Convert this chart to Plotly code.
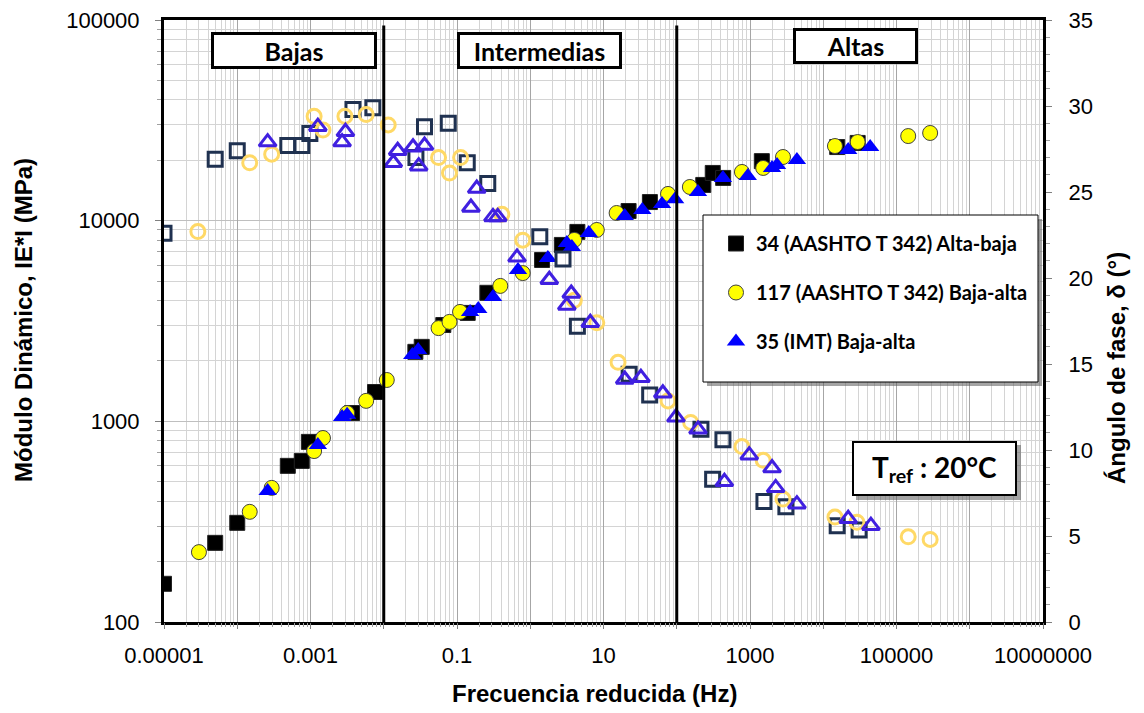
import plotly.graph_objects as go

# ---------------- data ----------------
# Dynamic modulus |E*| (MPa) vs reduced frequency (Hz)
f_e34 = [1e-5, 5.0e-5, 1.0e-4, 4.9e-4, 7.6e-4, 9.5e-4, 3.7e-3, 7.6e-3, 0.027, 0.033,
         0.065, 0.14, 0.26, 1.45, 2.7, 4.4, 22, 43, 230, 310, 430, 1450, 15500, 29500]
e34 = [155, 248, 312, 600, 635, 790, 1100, 1400, 2220, 2350,
       3020, 3470, 4370, 6370, 7570, 8790, 11170, 12380, 15070, 17290, 16330, 19800, 23270, 24400]

f_e117 = [3.0e-5, 1.48e-4, 2.95e-4, 1.12e-3, 1.48e-3, 3.16e-3, 5.75e-3, 0.011, 0.056, 0.079,
          0.11, 0.39, 0.79, 4.0, 8.1, 15.1, 76, 151, 776, 1514, 2820, 14450, 29500, 144500, 288000]
e117 = [223, 354, 466, 711, 826, 1100, 1265, 1607, 2915, 3130,
        3510, 4730, 5480, 8020, 8990, 10920, 13590, 14720, 17490, 18310, 20760, 23550, 24650, 26400, 27350]

f_e35 = [2.6e-4, 1.26e-3, 2.7e-3, 3.16e-3, 0.0245, 0.0295, 0.151, 0.195, 0.31, 0.68,
         1.74, 3.16, 3.7, 6.3, 19.5, 33.9, 63, 95, 195, 427, 933, 2000, 2340, 4370, 21900, 43700]
e35 = [450, 762, 1052, 1077, 2140, 2270, 3510, 3630, 4170, 5680,
       6520, 7740, 7400, 8690, 10540, 11300, 12100, 12800, 13900, 16330, 16710, 18310, 18950, 20050, 22490, 23270]

# Phase angle (deg) vs reduced frequency (Hz)
f_d34 = [1e-5, 5.0e-5, 1.0e-4, 4.9e-4, 7.6e-4, 9.8e-4, 3.8e-3, 7.1e-3, 0.0275, 0.036,
         0.076, 0.138, 0.263, 1.35, 2.8, 4.4, 22.4, 42.7, 214, 427, 309, 1550, 3090, 15500, 30900]
d34 = [22.6, 26.9, 27.4, 27.7, 27.7, 28.4, 29.8, 29.9, 27.0, 28.8,
       29.0, 26.7, 25.5, 22.4, 21.1, 17.2, 14.4, 13.2, 11.2, 10.6, 8.3, 7.0, 6.7, 5.6, 5.35]

f_d117 = [2.9e-5, 1.48e-4, 2.95e-4, 1.12e-3, 1.48e-3, 2.95e-3, 5.75e-3, 0.0115, 0.056, 0.079,
          0.112, 0.41, 0.79, 4.0, 8.1, 15.8, 76, 155, 776, 1514, 2820, 14450, 28800, 144500, 288000]
d117 = [22.7, 26.7, 27.2, 29.4, 28.6, 29.4, 29.5, 28.9, 27.0, 26.1,
        27.0, 23.7, 22.2, 18.7, 17.4, 15.1, 12.85, 11.6, 10.2, 9.4, 7.15, 6.1, 5.8, 4.95, 4.8]

f_d35 = [2.6e-4, 1.26e-3, 2.7e-3, 3.0e-3, 0.0135, 0.0155, 0.0251, 0.030, 0.036, 0.155,
         0.186, 0.31, 0.36, 0.66, 1.82, 3.63, 3.16, 6.6, 19.5, 32.4, 64.6, 97.7, 195, 977, 2000,
         447, 2240, 4370, 21900, 44700]
d35 = [27.9, 28.8, 27.9, 28.5, 26.7, 27.4, 27.6, 26.5, 27.7, 24.1,
       25.2, 23.55, 23.55, 21.2, 19.9, 19.1, 18.4, 17.4, 14.1, 14.2, 13.3, 11.9, 11.2, 9.7, 8.95,
       8.15, 7.8, 6.85, 6.0, 5.6]

series_names = ["34 (AASHTO T 342) Alta-baja", "117 (AASHTO T 342) Baja-alta", "35 (IMT) Baja-alta"]
zone_limits = [0.01, 100]          # Hz, limits between frequency zones
zone_labels = ["Bajas", "Intermedias", "Altas"]

x_label_vals = [1e-5, 1e-3, 1e-1, 10, 1e3, 1e5, 1e7]
x_label_text = ["0.00001", "0.001", "0.1", "10", "1000", "100000", "10000000"]
x_decades = [1e-5, 1e-4, 1e-3, 1e-2, 1e-1, 1, 10, 100, 1e3, 1e4, 1e5, 1e6, 1e7]
y_tickvals = [100, 1000, 10000, 100000]
y_ticktext = ["100", "1000", "10000", "100000"]

# ---------------- figure ----------------
W, H = 1144, 713
L, R, T, B = 164, 1144 - 1043, 20, 713 - 622
PW, PH = W - L - R, H - T - B

def px(x):
    return (x - L) / PW

def py(y):
    return (H - B - y) / PH

fig = go.Figure()

# zone dividers (drawn on the grid axis x2, same scale as x)
for zl in zone_limits:
    fig.add_trace(go.Scatter(x=[zl, zl], y=[100, 94000], mode="lines", xaxis="x2",
                             line=dict(color="black", width=3),
                             showlegend=False, hoverinfo="skip"))

NAVY = "#1F3150"
LYEL = "#FFD966"
VIOL = "#4020E0"

fig.add_trace(go.Scatter(x=f_e34, y=e34, mode="markers", name=series_names[0], legendgroup="a",
                         marker=dict(symbol="square", size=15, color="black",
                                     line=dict(width=1, color="#222222"))))
fig.add_trace(go.Scatter(x=f_d34, y=d34, yaxis="y2", mode="markers", showlegend=False,
                         marker=dict(symbol="square-open", size=14, color=NAVY,
                                     line=dict(width=3, color=NAVY))))
fig.add_trace(go.Scatter(x=f_e117, y=e117, mode="markers", name=series_names[1], legendgroup="b",
                         marker=dict(symbol="circle", size=15, color="#FFFF00",
                                     line=dict(width=1, color="#404040"))))
fig.add_trace(go.Scatter(x=f_d117, y=d117, yaxis="y2", mode="markers", showlegend=False,
                         marker=dict(symbol="circle-open", size=14, color=LYEL,
                                     line=dict(width=3, color=LYEL))))
fig.add_trace(go.Scatter(x=f_e35, y=e35, mode="markers", name=series_names[2], legendgroup="c",
                         marker=dict(symbol="triangle-up", size=16, color="#0000FF",
                                     line=dict(width=0))))
fig.add_trace(go.Scatter(x=f_d35, y=d35, yaxis="y2", mode="markers", showlegend=False,
                         marker=dict(symbol="triangle-up-open", size=15, color=VIOL,
                                     line=dict(width=3, color=VIOL))))

TICKFONT = dict(family="Liberation Sans, Arial, sans-serif", size=22, color="black")
TITLEFONT = dict(family="Liberation Sans, Arial, sans-serif", size=24, color="black")
BOXFONT = dict(family="Lato, Liberation Sans, sans-serif", color="black")

fig.update_layout(
    width=W, height=H,
    margin=dict(l=L, r=R, t=T, b=B, autoexpand=False),
    paper_bgcolor="white", plot_bgcolor="white",
    showlegend=True,
    legend=dict(x=px(716), y=py(224), xanchor="left", yanchor="top",
                bgcolor="rgba(0,0,0,0)", borderwidth=0,
                font=dict(family="Lato, Liberation Sans, sans-serif", size=20, color="black", weight="bold"),
                traceorder="grouped", tracegroupgap=20, itemsizing="trace", itemwidth=30),
    # labelled frequency axis (labels every two decades)
    xaxis=dict(type="log", range=[-5, 7], tickmode="array", tickvals=x_label_vals, ticktext=x_label_text,
               showgrid=False, ticks="", showline=True, linewidth=3, linecolor="black", mirror=True,
               tickfont=TICKFONT, ticklabelstandoff=12, zeroline=False, automargin=False),
    # grid axis: a gridline at every decade plus minor lines
    xaxis2=dict(type="log", range=[-5, 7], overlaying="x", side="bottom", tickmode="array",
                tickvals=x_decades, showticklabels=False,
                showgrid=True, gridcolor="#A6A6A6", gridwidth=1,
                minor=dict(dtick="D1", showgrid=True, gridcolor="#D4D4D4", ticks="outside",
                           ticklen=4, tickcolor="#A0A0A0"),
                ticks="outside", ticklen=6, tickcolor="#808080",
                showline=False, zeroline=False, automargin=False),
    yaxis=dict(type="log", range=[2, 5], tickmode="array", tickvals=y_tickvals, ticktext=y_ticktext,
               showgrid=True, gridcolor="#BFBFBF", gridwidth=1,
               minor=dict(dtick="D1", showgrid=True, gridcolor="#D4D4D4", ticks="outside",
                          ticklen=4, tickcolor="#A0A0A0"),
               ticks="outside", ticklen=6, tickcolor="#808080",
               showline=True, linewidth=3, linecolor="black", mirror=True,
               tickfont=TICKFONT, ticklabelstandoff=11, zeroline=False, automargin=False),
    yaxis2=dict(overlaying="y", side="right", range=[0, 35], tickmode="linear", tick0=0, dtick=5,
                showgrid=False, zeroline=False,
                minor=dict(dtick=1, ticks="outside", ticklen=4, tickcolor="#A0A0A0"),
                ticks="outside", ticklen=6, tickcolor="#808080",
                showline=True, linewidth=3, linecolor="black",
                tickfont=TICKFONT, ticklabelstandoff=12, automargin=False),
)

shapes = []
# legend frame + shadow
shapes.append(dict(type="rect", xref="paper", yref="paper", layer="above",
                   x0=px(707), x1=px(1042), y0=py(386), y1=py(219),
                   fillcolor="rgba(90,90,90,0.55)", line=dict(width=0)))
shapes.append(dict(type="rect", xref="paper", yref="paper", layer="above",
                   x0=px(703), x1=px(1038), y0=py(382), y1=py(215),
                   fillcolor="white", line=dict(width=1, color="black")))
# Tref shadow
shapes.append(dict(type="rect", xref="paper", yref="paper", layer="above",
                   x0=px(856), x1=px(1021), y0=py(500), y1=py(445),
                   fillcolor="rgba(90,90,90,0.55)", line=dict(width=0)))
fig.update_layout(shapes=shapes)

annotations = []
boxes = [(294, 51, 160, 31), (539, 50, 159, 31), (855, 46, 119, 30)]
for lab, (cx, cy, bw, bh) in zip(zone_labels, boxes):
    annotations.append(dict(xref="paper", yref="paper", x=px(cx), y=py(cy),
                            xanchor="center", yanchor="middle", showarrow=False,
                            text="<b>" + lab + "</b>", font=dict(size=25, **BOXFONT),
                            bgcolor="white", bordercolor="black", borderwidth=3, borderpad=0,
                            width=bw, height=bh, align="center", valign="middle"))
annotations.append(dict(xref="paper", yref="paper", x=px(934.5), y=py(468.5),
                        xanchor="center", yanchor="middle", showarrow=False,
                        text="<b>T<sub>ref</sub> : 20°C</b>", font=dict(size=28, **BOXFONT),
                        bgcolor="white", bordercolor="black", borderwidth=2, borderpad=0,
                        width=161, height=51, align="center", valign="middle"))
# axis titles
annotations.append(dict(xref="paper", yref="paper", x=px(23), y=py(320), textangle=-90,
                        xanchor="center", yanchor="middle", showarrow=False,
                        text="<b>Módulo Dinámico, IE*I (MPa)</b>", font=TITLEFONT))
annotations.append(dict(xref="paper", yref="paper", x=px(1116), y=py(368), textangle=-90,
                        xanchor="center", yanchor="middle", showarrow=False,
                        text="<b>Ángulo de fase, δ (°)</b>", font=TITLEFONT))
annotations.append(dict(xref="paper", yref="paper", x=px(594), y=py(694),
                        xanchor="center", yanchor="middle", showarrow=False,
                        text="<b>Frecuencia reducida (Hz)</b>", font=TITLEFONT))
fig.update_layout(annotations=annotations)

fig.write_html("out.html")
